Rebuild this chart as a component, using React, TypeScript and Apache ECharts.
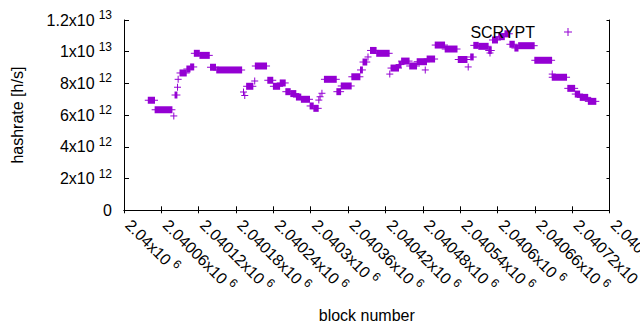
import React, { useEffect, useRef } from "react";
import * as echarts from "echarts";

// Plateaus of the estimated hashrate: first block, last block, value (h/s)
const blockStart = [
  2040039, 2040050, 2040080, 2040082, 2040086, 2040087, 2040090, 2040101, 2040107, 2040113,
  2040122, 2040139, 2040149, 2040192, 2040194, 2040197, 2040210, 2040211, 2040231, 2040240,
  2040251, 2040260, 2040268, 2040277, 2040285, 2040299, 2040305, 2040313, 2040315, 2040318,
  2040322, 2040342, 2040349, 2040366, 2040380, 2040384, 2040392, 2040396, 2040406, 2040427,
  2040429, 2040442, 2040446, 2040459, 2040471, 2040484, 2040487, 2040500, 2040516, 2040537,
  2040553, 2040557, 2040562, 2040570, 2040588, 2040586, 2040592, 2040602, 2040612, 2040620,
  2040628, 2040634, 2040660, 2040688, 2040688, 2040713, 2040725, 2040733, 2040746,
];
const blockEnd = [
  2040049, 2040077, 2040080, 2040085, 2040086, 2040087, 2040100, 2040106, 2040112, 2040121,
  2040137, 2040147, 2040189, 2040192, 2040194, 2040207, 2040210, 2040229, 2040239, 2040250,
  2040259, 2040267, 2040276, 2040284, 2040298, 2040304, 2040312, 2040313, 2040315, 2040318,
  2040341, 2040348, 2040365, 2040379, 2040383, 2040390, 2040392, 2040405, 2040426, 2040427,
  2040441, 2040445, 2040458, 2040470, 2040486, 2040484, 2040499, 2040515, 2040535, 2040551,
  2040553, 2040561, 2040569, 2040585, 2040588, 2040590, 2040600, 2040611, 2040619, 2040627,
  2040633, 2040659, 2040687, 2040688, 2040711, 2040724, 2040732, 2040745, 2040758,
];
const hashrate = [
  6.94e12, 6.34e12, 5.95e12, 7.27e12, 7.76e12, 8.26e12, 8.66e12, 8.91e12, 9.04e12, 9.9e12,
  9.77e12, 9.02e12, 8.85e12, 7.46e12, 7.24e12, 7.82e12, 8.15e12, 9.1e12, 8.2e12, 7.82e12,
  8.03e12, 7.48e12, 7.36e12, 7.14e12, 7.0e12, 6.58e12, 6.43e12, 6.95e12, 7.16e12, 7.38e12,
  8.26e12, 7.48e12, 7.84e12, 8.42e12, 8.85e12, 9.35e12, 9.67e12, 10.08e12, 9.9e12, 8.59e12,
  8.97e12, 9.19e12, 9.41e12, 9.1e12, 9.37e12, 8.85e12, 9.54e12, 10.42e12, 10.17e12, 9.51e12,
  9.04e12, 9.67e12, 10.4e12, 10.34e12, 9.92e12, 10.08e12, 10.74e12, 10.95e12, 11.13e12, 10.47e12,
  10.23e12, 10.38e12, 9.46e12, 8.59e12, 8.39e12, 7.69e12, 7.33e12, 7.12e12, 6.87e12,
];

const xMin = 2040000;
const xMax = 2040780;
const xStep = 60;
const yMin = 0;
const yMax = 1.2e13;
const yStep = 2e12;

const seriesName = "SCRYPT";
const COLOR = "#9400D3";
const FONT = "Liberation Sans, Arial, sans-serif";
const PLUS = "path://M0,3.5H8V4.5H0Z M3.5,0H4.5V8H3.5Z";

function sci(v: number): string {
  if (v === 0) return "{m|0}";
  const e = Math.floor(Math.log10(Math.abs(v)) + 1e-9);
  const m = parseFloat((v / Math.pow(10, e)).toPrecision(8));
  return `{m|${m}x10}{e|${e}}`;
}

const rich = {
  m: { fontSize: 16, lineHeight: 22, color: "#000", fontFamily: FONT },
  e: { fontSize: 12, lineHeight: 12, color: "#000", fontFamily: FONT, padding: [0, 0, 10, 4] },
};

export default function App() {
  const ref = useRef<HTMLDivElement>(null);
  useEffect(() => {
    document.body.style.margin = "0";
    const chart = echarts.init(ref.current!, null, { renderer: "svg" });
    const data = blockStart.map((s, i) => [s, blockEnd[i], hashrate[i]]);
    const axisLine = { show: true, lineStyle: { color: "#000", width: 1 } };
    chart.setOption({
      animation: false,
      backgroundColor: "#fff",
      textStyle: { fontFamily: FONT },
      grid: {
        left: 124,
        right: 30.5,
        top: 20,
        bottom: 119.7,
        containLabel: false,
        outerBoundsMode: "none",
      },
      legend: {
        data: [{ name: seriesName, icon: PLUS }],
        right: 68,
        top: 24,
        padding: 0,
        align: "right",
        itemWidth: 56,
        itemHeight: 8,
        symbolKeepAspect: true,
        selectedMode: false,
        textStyle: { fontSize: 16, color: "#000", fontFamily: FONT, lineHeight: 16 },
      },
      xAxis: [
        {
          type: "value",
          min: xMin,
          max: xMax,
          interval: xStep,
          position: "bottom",
          name: "block number",
          nameLocation: "middle",
          nameGap: 97,
          nameTextStyle: { fontSize: 16, color: "#000", fontFamily: FONT },
          axisLine,
          splitLine: { show: false },
          axisTick: { show: true, inside: true, length: 4, lineStyle: { color: "#000" } },
          axisLabel: {
            show: true,
            rotate: -45,
            margin: 12,
            padding: [0, 0, 6, 3],
            showMinLabel: true,
            showMaxLabel: true,
            formatter: (v: number) => sci(v),
            rich,
          },
        },
        {
          type: "value",
          min: xMin,
          max: xMax,
          interval: xStep,
          position: "top",
          axisLine,
          splitLine: { show: false },
          axisTick: { show: true, inside: true, length: 3, lineStyle: { color: "#000" } },
          axisLabel: { show: false },
        },
      ],
      yAxis: [
        {
          type: "value",
          min: yMin,
          max: yMax,
          interval: yStep,
          position: "left",
          name: "hashrate [h/s]",
          nameLocation: "middle",
          nameGap: 99,
          nameTextStyle: { fontSize: 16, color: "#000", fontFamily: FONT },
          axisLine,
          splitLine: { show: false },
          axisTick: { show: true, inside: true, length: 5, lineStyle: { color: "#000" } },
          axisLabel: {
            show: true,
            margin: 12,
            showMinLabel: true,
            showMaxLabel: true,
            formatter: (v: number) => sci(v),
            rich,
          },
        },
        {
          type: "value",
          min: yMin,
          max: yMax,
          interval: yStep,
          position: "right",
          axisLine,
          splitLine: { show: false },
          axisTick: { show: true, inside: true, length: 3, lineStyle: { color: "#000" } },
          axisLabel: { show: false },
        },
      ],
      series: [
        {
          name: seriesName,
          type: "custom",
          xAxisIndex: 0,
          yAxisIndex: 0,
          itemStyle: { color: COLOR },
          encode: { x: [0, 1], y: 2 },
          data,
          renderItem: (params: any, api: any) => {
            const p1 = api.coord([api.value(0), api.value(2)]);
            const p2 = api.coord([api.value(1), api.value(2)]);
            const w = p2[0] - p1[0];
            return {
              type: "group",
              children: [
                {
                  type: "rect",
                  shape: { x: p1[0] - 0.5, y: p1[1] - 3.5, width: w + 1, height: 7 },
                  style: { fill: COLOR },
                },
                {
                  type: "rect",
                  shape: { x: p1[0] - 3.5, y: p1[1] - 0.5, width: w + 7, height: 1 },
                  style: { fill: COLOR },
                },
              ],
            };
          },
        },
      ],
    });
    return () => chart.dispose();
  }, []);
  return (
    <div
      ref={ref}
      style={{ position: "absolute", left: 0, top: 0, width: 640, height: 330 }}
    />
  );
}
